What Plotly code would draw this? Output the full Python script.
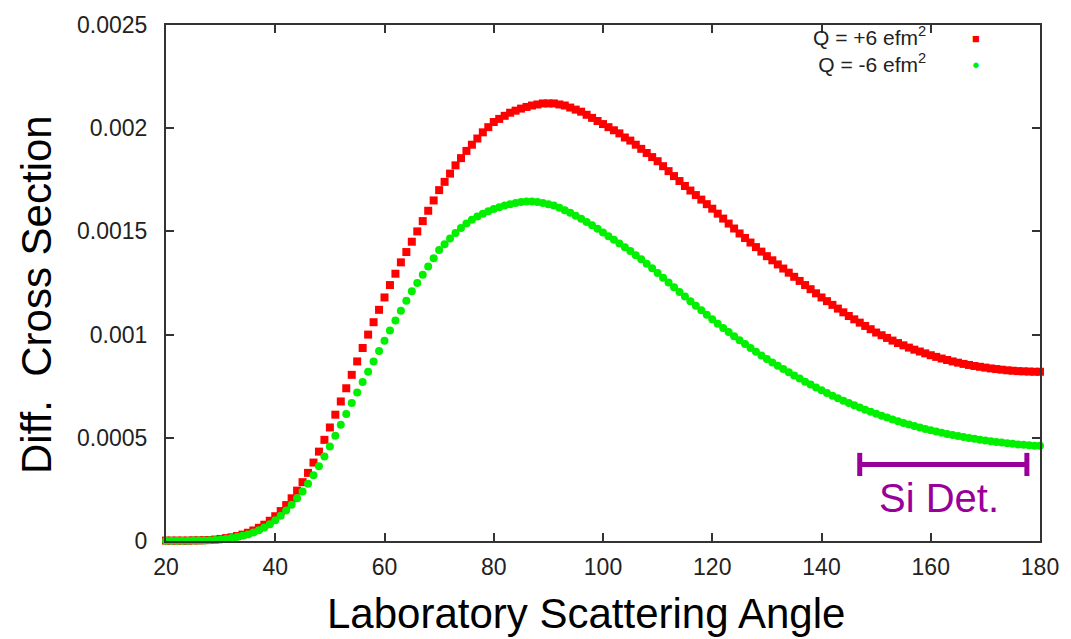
import plotly.graph_objects as go

# Laboratory scattering angle (degrees), one point per degree
angles = list(range(20, 181))

# Q = +6 efm^2 (units of 1e-5)
q_pos_e5 = [
    0.2, 0.2, 0.2, 0.2, 0.2, 0.3, 0.3, 0.4, 0.5, 0.7,            # 20-29
    1.0, 1.4, 1.8, 2.4, 3.1, 4.0, 5.1, 6.4, 7.9, 9.8,            # 30-39
    12.0, 14.5, 17.4, 20.7, 24.4, 28.5, 33.0, 38.0, 43.3, 49.0,  # 40-49
    55.0, 61.2, 67.6, 74.0, 80.5, 87.0, 93.5, 100.0, 106.0, 112.0,  # 50-59
    118.0, 124.0, 129.5, 135.0, 140.0, 145.0, 150.0, 155.0, 160.0, 165.0,  # 60-69
    170.0, 174.0, 178.0, 182.0, 185.5, 189.0, 192.0, 195.0, 198.0, 200.5,  # 70-79
    203.0, 204.5, 206.0, 207.5, 208.5, 209.5, 210.3, 211.0, 211.5, 212.0,  # 80-89
    212.0, 212.0, 211.5, 211.0, 210.0, 209.0, 208.0, 206.5, 205.0, 203.5,  # 90-99
    202.0, 200.5, 199.0, 197.5, 195.5, 194.0, 192.0, 190.0, 188.0, 186.0,  # 100-109
    184.0, 181.6, 179.2, 176.8, 174.4, 172.0, 169.8, 167.6, 165.4, 163.2,  # 110-119
    161.0, 158.6, 156.2, 153.8, 151.4, 149.0, 146.8, 144.6, 142.4, 140.2,  # 120-129
    138.0, 136.0, 134.0, 132.0, 130.0, 128.0, 126.0, 124.0, 122.0, 120.0,  # 130-139
    118.0, 116.2, 114.4, 112.6, 110.8, 109.0, 107.4, 105.8, 104.2, 102.6,  # 140-149
    101.0, 99.7, 98.4, 97.1, 95.9, 94.8, 93.7, 92.7, 91.8, 90.9,  # 150-159
    90.0, 89.2, 88.4, 87.7, 87.0, 86.4, 85.8, 85.3, 84.8, 84.4,  # 160-169
    84.0, 83.6, 83.3, 83.0, 82.7, 82.5, 82.3, 82.2, 82.1, 82.0,  # 170-179
    82.0,                                                        # 180
]

# Q = -6 efm^2 (units of 1e-5)
q_neg_e5 = [
    0.1, 0.1, 0.1, 0.1, 0.1, 0.2, 0.2, 0.3, 0.4, 0.5,            # 20-29
    0.7, 1.0, 1.4, 1.9, 2.5, 3.2, 4.1, 5.2, 6.5, 8.1,            # 30-39
    10.0, 12.2, 14.8, 17.6, 20.7, 24.0, 27.7, 31.8, 36.2, 40.9,  # 40-49
    45.8, 51.0, 56.3, 61.5, 66.8, 72.0, 77.0, 82.0, 87.0, 92.0,  # 50-59
    97.0, 102.0, 106.8, 111.6, 116.4, 121.0, 125.0, 129.0, 133.0, 137.0,  # 60-69
    141.0, 143.8, 146.6, 149.2, 151.6, 153.8, 155.6, 157.2, 158.6, 159.8,  # 70-79
    160.8, 161.7, 162.5, 163.2, 163.8, 164.3, 164.5, 164.5, 164.3, 163.8,  # 80-89
    163.2, 162.5, 161.5, 160.3, 159.0, 157.6, 156.1, 154.6, 153.0, 151.3,  # 90-99
    149.5, 147.7, 145.9, 144.1, 142.3, 140.5, 138.5, 136.5, 134.3, 132.1,  # 100-109
    129.9, 127.6, 125.3, 123.0, 120.7, 118.4, 116.2, 114.0, 111.8, 109.6,  # 110-119
    107.4, 105.3, 103.2, 101.2, 99.2, 97.3, 95.4, 93.5, 91.7, 89.9,  # 120-129
    88.2, 86.5, 84.9, 83.3, 81.7, 80.2, 78.7, 77.2, 75.8, 74.4,  # 130-139
    73.0, 71.7, 70.4, 69.2, 68.0, 66.9, 65.8, 64.7, 63.6, 62.6,  # 140-149
    61.6, 60.7, 59.8, 58.9, 58.0, 57.2, 56.4, 55.7, 55.0, 54.3,  # 150-159
    53.7, 53.1, 52.5, 51.9, 51.4, 50.9, 50.4, 49.9, 49.5, 49.1,  # 160-169
    48.7, 48.3, 48.0, 47.7, 47.4, 47.1, 46.8, 46.6, 46.4, 46.2,  # 170-179
    46.1,                                                        # 180
]

q_pos = [v * 1e-5 for v in q_pos_e5]
q_neg = [v * 1e-5 for v in q_neg_e5]

x_ticks = [20, 40, 60, 80, 100, 120, 140, 160, 180]
y_ticks = [0, 0.0005, 0.001, 0.0015, 0.002, 0.0025]
y_tick_text = ["0", "0.0005", "0.001", "0.0015", "0.002", "0.0025"]

series_names = ["Q = +6 efm<sup>2</sup>", "Q = -6 efm<sup>2</sup>"]

# Si detector coverage bracket (angle range, level, cap half-height)
si_det_range = [147.0, 177.6]
si_det_level = 0.000371
si_det_cap = 0.000056
si_det_label = "Si Det."
si_det_label_pos = [161.6, 0.000207]

FONT = "Liberation Sans, Arial, sans-serif"
PURPLE = "#990099"
AXIS = "#333333"
RED = "#ff0000"
GREEN = "#00f000"

fig = go.Figure()

fig.add_trace(go.Scatter(
    x=angles, y=q_pos, mode="markers", name=series_names[0],
    marker=dict(symbol="square", size=8, color=RED),
    cliponaxis=False, showlegend=False,
))
fig.add_trace(go.Scatter(
    x=angles, y=q_neg, mode="markers", name=series_names[1],
    marker=dict(symbol="circle", size=8, color=GREEN),
    cliponaxis=False, showlegend=False,
))

# Si Det. bracket
lo, hi = si_det_range
fig.add_trace(go.Scatter(
    x=[lo, hi, None, lo, lo, None, hi, hi],
    y=[si_det_level, si_det_level, None,
       si_det_level - si_det_cap, si_det_level + si_det_cap, None,
       si_det_level - si_det_cap, si_det_level + si_det_cap],
    mode="lines", line=dict(color=PURPLE, width=5),
    showlegend=False, hoverinfo="skip",
))

annotations = [
    dict(x=si_det_label_pos[0], y=si_det_label_pos[1], xref="x", yref="y",
         text=si_det_label, showarrow=False,
         font=dict(family=FONT, size=40, color=PURPLE)),
    # Axis titles
    dict(x=0.48, y=-0.14, xref="paper", yref="paper", text="Laboratory Scattering Angle",
         showarrow=False, xanchor="center", yanchor="middle",
         font=dict(family=FONT, size=42, color="#000000")),
    dict(x=-0.148, y=0.478, xref="paper", yref="paper", text="Diff.  Cross Section",
         showarrow=False, textangle=-90, xanchor="center", yanchor="middle",
         font=dict(family=FONT, size=42, color="#000000")),
    # Legend (text right-aligned, symbol on the right, gnuplot style)
    dict(x=0.872, y=0.952, xref="paper", yref="paper",
         text="<br>".join(series_names), align="right",
         showarrow=False, xanchor="right", yanchor="middle",
         font=dict(family=FONT, size=21, color="#222222")),
    dict(x=0.927, y=0.973, xref="paper", yref="paper", text="■",
         showarrow=False, xanchor="center", yanchor="middle",
         font=dict(family=FONT, size=13, color=RED)),
    dict(x=0.927, y=0.924, xref="paper", yref="paper", text="●",
         showarrow=False, xanchor="center", yanchor="middle",
         font=dict(family=FONT, size=13, color=GREEN)),
]

fig.update_layout(
    width=1071, height=639,
    margin=dict(l=166, r=30, t=15, b=98),
    paper_bgcolor="white", plot_bgcolor="white",
    font=dict(family=FONT, size=23, color="#222222"),
    annotations=annotations,
    xaxis=dict(
        range=[20, 180], tickvals=x_ticks, ticks="inside", ticklen=8,
        tickwidth=2, tickcolor=AXIS, showline=True, linecolor=AXIS,
        linewidth=2, mirror="ticks", showgrid=False, zeroline=False,
        ticklabelstandoff=4,
        tickfont=dict(family=FONT, size=23, color="#222222"),
    ),
    yaxis=dict(
        range=[0, 0.0025], tickvals=y_ticks, ticktext=y_tick_text,
        ticks="inside", ticklen=8, tickwidth=2, tickcolor=AXIS,
        showline=True, linecolor=AXIS, linewidth=2, mirror="ticks",
        showgrid=False, zeroline=False, ticklabelstandoff=12,
        tickfont=dict(family=FONT, size=23, color="#222222"),
    ),
)

fig.write_html("out.html")
